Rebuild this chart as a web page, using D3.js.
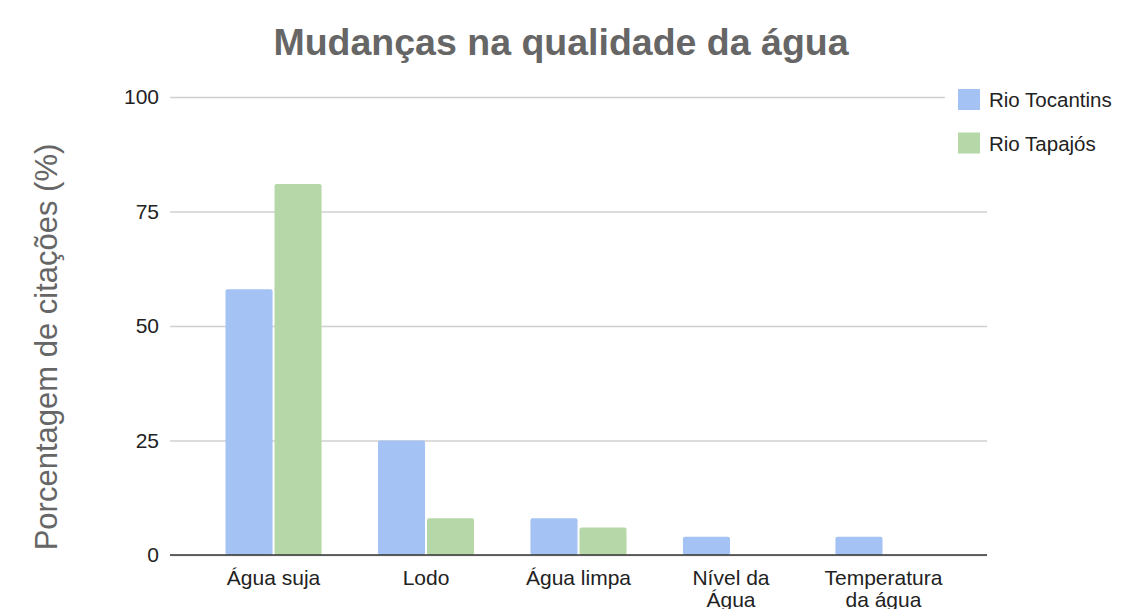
<!DOCTYPE html>
<html>
<head>
<meta charset="utf-8">
<script src="https://cdn.jsdelivr.net/npm/d3@7"></script>
<style>
  body { margin: 0; background: #fff; }
  text { font-family: "Liberation Sans", Arial, sans-serif; }
</style>
</head>
<body>
<svg id="chart"></svg>
<script>
// dados
var categories = ["Água suja", "Lodo", "Água limpa", "Nível da\nÁgua", "Temperatura\nda água"];
var seriesNames = ["Rio Tocantins", "Rio Tapajós"];
var tocantins = [58, 25, 8, 4, 4];
var tapajos = [81, 8, 6, 0, 0];
var yTicks = [0, 25, 50, 75, 100];
var colors = ["#a4c2f4", "#b6d7a8"];

var width = 1142, height = 609;
var svg = d3.select("#chart")
    .attr("width", width)
    .attr("height", height);

var rows = categories.map(function(c, i) {
  return { cat: c, values: [tocantins[i], tapajos[i]] };
});

var x0 = d3.scaleBand()
    .domain(categories)
    .range([170, 987])
    .paddingInner(0.37)
    .paddingOuter(0.364);

var x1 = d3.scaleBand()
    .domain([0, 1])
    .range([0, x0.bandwidth()])
    .paddingInner(0.04);

var y = d3.scaleLinear()
    .domain([0, 100])
    .range([555, 97]);

// grid lines
var grid = svg.append("g")
    .call(d3.axisLeft(y).tickValues(yTicks).tickSize(0).tickFormat(""));
grid.select(".domain").remove();
grid.selectAll(".tick line")
    .attr("x1", 170)
    .attr("x2", function(d) { return d === 100 ? 945 : 987; })
    .attr("stroke", "#d0d0d0")
    .attr("stroke-width", 1.3);

// tick labels
svg.append("g")
    .selectAll("text")
    .data(yTicks)
    .enter().append("text")
      .attr("x", 159)
      .attr("y", function(d) { return y(d) + 7; })
      .attr("text-anchor", "end")
      .attr("font-size", 21)
      .attr("fill", "#222")
      .text(function(d) { return d; });

// bars
var groups = svg.append("g")
    .selectAll("g")
    .data(rows)
    .enter().append("g")
      .attr("transform", function(d) { return "translate(" + x0(d.cat) + ",0)"; });

groups.selectAll("rect")
    .data(function(d) { return d.values.filter(function(v) { return v > 0; }).map(function(v, i) { return { s: i, v: v }; }); })
    .enter().append("rect")
      .attr("x", function(d) { return x1(d.s); })
      .attr("y", function(d) { return y(d.v); })
      .attr("width", x1.bandwidth())
      .attr("height", function(d) { return y(0) - y(d.v); })
      .attr("rx", 2)
      .attr("fill", function(d) { return colors[d.s]; });

// baseline
svg.append("line")
    .attr("x1", 170)
    .attr("x2", 987)
    .attr("y1", y(0))
    .attr("y2", y(0))
    .attr("stroke", "#333")
    .attr("stroke-width", 1.5);

// category labels
var labels = svg.append("g")
    .selectAll("text")
    .data(categories)
    .enter().append("text")
      .attr("x", function(d) { return x0(d) + x0.bandwidth() / 2; })
      .attr("y", 585)
      .attr("text-anchor", "middle")
      .attr("font-size", 21)
      .attr("fill", "#222");

labels.each(function(d) {
  var t = d3.select(this);
  d.split("\n").forEach(function(line, i) {
    t.append("tspan")
      .attr("x", t.attr("x"))
      .attr("dy", i ? 22 : 0)
      .text(line);
  });
});

// title
svg.append("text")
    .attr("x", 561)
    .attr("y", 55)
    .attr("text-anchor", "middle")
    .attr("font-size", 37.5)
    .attr("font-weight", "bold")
    .attr("fill", "#666")
    .text("Mudanças na qualidade da água");

// y axis title
svg.append("text")
    .attr("transform", "translate(57,347) rotate(-90)")
    .attr("text-anchor", "middle")
    .attr("font-size", 31)
    .attr("fill", "#666")
    .text("Porcentagem de citações (%)");

// legend
var legend = svg.append("g")
    .selectAll("g")
    .data(seriesNames)
    .enter().append("g")
      .attr("transform", function(d, i) { return "translate(958," + (89 + i * 43.5) + ")"; });

legend.append("rect")
    .attr("width", 22)
    .attr("height", 21)
    .attr("fill", function(d, i) { return colors[i]; });

legend.append("text")
    .attr("x", 31)
    .attr("y", 18)
    .attr("font-size", 20.5)
    .attr("fill", "#222")
    .text(function(d) { return d; });
</script>
</body>
</html>
